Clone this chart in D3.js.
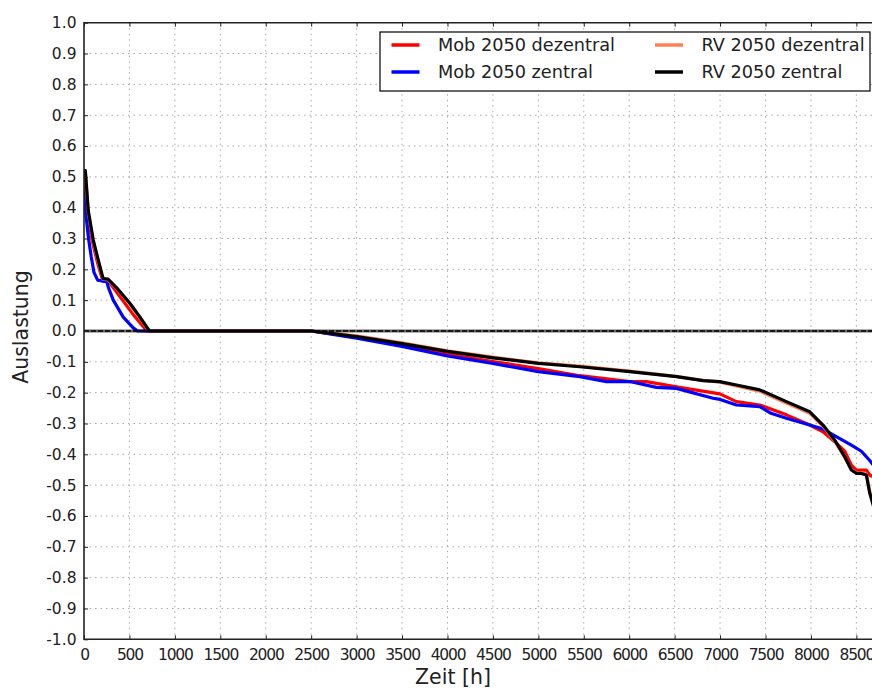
<!DOCTYPE html>
<html>
<head>
<meta charset="utf-8">
<script src="https://cdn.jsdelivr.net/npm/d3@7"></script>
<style>
  html, body { margin: 0; padding: 0; background: #fff; }
  svg { display: block; }
  text { font-family: "DejaVu Sans", sans-serif; fill: #222; }
</style>
</head>
<body>
<svg id="chart" width="872" height="691"></svg>
<script>
// Annual load-duration curves of line utilisation (hours sorted by load)
const xTicks = [0, 500, 1000, 1500, 2000, 2500, 3000, 3500, 4000, 4500, 5000, 5500, 6000, 6500, 7000, 7500, 8000, 8500, 9000];
const yTicks = [1.0, 0.9, 0.8, 0.7, 0.6, 0.5, 0.4, 0.3, 0.2, 0.1, 0.0, -0.1, -0.2, -0.3, -0.4, -0.5, -0.6, -0.7, -0.8, -0.9, -1.0];

const mobDezHours = [0, 20, 50, 100, 150, 200, 260, 350, 450, 550, 650, 690, 2500, 3000, 3500, 4000, 4500, 5000, 5457, 6007, 6190, 6520, 6997, 7180, 7437, 7730, 7987, 8133, 8262, 8372, 8445, 8500, 8555, 8610, 8647, 8700, 8760];
const mobDezValues = [0.50, 0.44, 0.36, 0.28, 0.22, 0.17, 0.165, 0.13, 0.09, 0.05, 0.015, 0.0, 0.0, -0.02, -0.046, -0.075, -0.099, -0.122, -0.145, -0.164, -0.164, -0.181, -0.204, -0.229, -0.24, -0.272, -0.305, -0.327, -0.359, -0.39, -0.435, -0.451, -0.451, -0.451, -0.467, -0.475, -0.485];

const mobZenHours = [0, 20, 50, 80, 110, 150, 200, 250, 270, 322, 432, 542, 590, 2500, 3000, 3500, 4000, 4500, 5000, 5457, 5750, 6007, 6300, 6520, 6923, 7000, 7180, 7437, 7560, 7730, 7987, 8133, 8313, 8445, 8555, 8647, 8700, 8760];
const mobZenValues = [0.45, 0.38, 0.30, 0.24, 0.19, 0.165, 0.162, 0.16, 0.14, 0.10, 0.045, 0.01, 0.0, 0.0, -0.023, -0.05, -0.081, -0.105, -0.132, -0.148, -0.164, -0.164, -0.183, -0.186, -0.218, -0.222, -0.24, -0.245, -0.267, -0.283, -0.305, -0.318, -0.348, -0.37, -0.39, -0.42, -0.44, -0.46];

const rvDezHours = [0, 15, 47, 102, 157, 210, 265, 360, 505, 616, 715, 2500, 3000, 3500, 4000, 4500, 5000, 5457, 6007, 6520, 6813, 6997, 7180, 7437, 7730, 7987, 8133, 8262, 8372, 8445, 8500, 8555, 8610, 8647, 8700, 8760];
const rvDezValues = [0.51, 0.51, 0.385, 0.29, 0.225, 0.168, 0.166, 0.138, 0.088, 0.043, 0.0, 0.0, -0.016, -0.038, -0.064, -0.085, -0.103, -0.114, -0.13, -0.147, -0.16, -0.166, -0.178, -0.195, -0.234, -0.267, -0.309, -0.357, -0.41, -0.449, -0.459, -0.46, -0.464, -0.52, -0.57, -0.61];

const rvZenHours = [0, 15, 47, 102, 157, 210, 265, 360, 505, 616, 720, 2500, 3000, 3500, 4000, 4500, 5000, 5457, 6007, 6520, 6813, 6997, 7180, 7437, 7730, 7987, 8133, 8262, 8372, 8445, 8500, 8555, 8610, 8647, 8700, 8760];
const rvZenValues = [0.52, 0.52, 0.39, 0.295, 0.23, 0.17, 0.168, 0.14, 0.09, 0.045, 0.0, 0.0, -0.018, -0.041, -0.066, -0.087, -0.105, -0.116, -0.132, -0.148, -0.161, -0.164, -0.175, -0.191, -0.229, -0.262, -0.305, -0.354, -0.408, -0.451, -0.462, -0.462, -0.467, -0.526, -0.58, -0.62];

const seriesNames = ["Mob 2050 dezentral", "Mob 2050 zentral", "RV 2050 dezentral", "RV 2050 zentral"];
const seriesColors = ["#ff0000", "#0000ff", "#ff7f50", "#000000"];
const seriesHours = [mobDezHours, mobZenHours, rvDezHours, rvZenHours];
const seriesValues = [mobDezValues, mobZenValues, rvDezValues, rvZenValues];

const svg = d3.select("#chart");
const plotLeft = 84, plotTop = 22.7, plotBottom = 639.3, plotRight = 880;

const x = d3.scaleLinear().domain([0, 8760]).range([plotLeft, plotRight]);
const y = d3.scaleLinear().domain([-1, 1]).range([plotBottom, plotTop]);

svg.append("defs").append("clipPath").attr("id", "plotClip")
  .append("rect").attr("x", plotLeft).attr("y", plotTop)
  .attr("width", plotRight - plotLeft).attr("height", plotBottom - plotTop);

// dotted grid
const grid = svg.append("g");
grid.selectAll(".gx").data(xTicks.filter(d => d > 0 && d <= 8760)).join("line")
  .attr("x1", d => x(d)).attr("x2", d => x(d)).attr("y1", plotTop).attr("y2", plotBottom)
  .attr("stroke", "#aaa").attr("stroke-width", 1).attr("stroke-dasharray", "1.5,4");
grid.selectAll(".gy").data(yTicks.filter(d => d > -1 && d < 1)).join("line")
  .attr("x1", plotLeft).attr("x2", plotRight).attr("y1", d => y(d)).attr("y2", d => y(d))
  .attr("stroke", "#aaa").attr("stroke-width", 1).attr("stroke-dasharray", "1.5,4");

// curves
const plot = svg.append("g").attr("clip-path", "url(#plotClip)");
const line = d3.line().x(d => x(d[0])).y(d => y(d[1]));
seriesNames.forEach((name, i) => {
  const pts = seriesHours[i].map((h, j) => [h, seriesValues[i][j]]);
  plot.append("path").datum(pts)
    .attr("d", line)
    .attr("fill", "none")
    .attr("stroke", seriesColors[i])
    .attr("stroke-width", 3.2)
    .attr("stroke-linejoin", "round");
});

// zero reference line
plot.append("line").attr("x1", plotLeft).attr("x2", plotRight).attr("y1", y(0)).attr("y2", y(0))
  .attr("stroke", "#000").attr("stroke-opacity", 0.6).attr("stroke-width", 3);
plot.append("line").attr("x1", plotLeft).attr("x2", plotRight).attr("y1", y(0)).attr("y2", y(0))
  .attr("stroke", "#000").attr("stroke-width", 1.3).attr("stroke-dasharray", "5,2");

// axes with inward ticks on all sides
const axisLeft = d3.axisLeft(y).tickValues(yTicks).tickFormat(d3.format(".1f")).tickSizeInner(-4).tickSizeOuter(0).tickPadding(8);
const gy = svg.append("g").attr("transform", `translate(${plotLeft},0)`).call(axisLeft);
gy.select(".domain").remove();
gy.selectAll("line").attr("stroke", "#222");
gy.selectAll("text").attr("font-size", "15.5px").attr("fill", "#222").attr("x", -7.5)
  .text(d => d3.format(".1f")(d).replace("−", "-"));

const xt = xTicks.filter(d => d <= 8760);
const axisBottom = d3.axisBottom(x).tickValues(xt).tickFormat(d3.format("d")).tickSizeInner(-4).tickSizeOuter(0).tickPadding(10);
const gx = svg.append("g").attr("transform", `translate(0,${plotBottom})`).call(axisBottom);
gx.select(".domain").remove();
gx.selectAll("line").attr("stroke", "#222");
gx.selectAll("text").attr("font-size", "15.5px").attr("fill", "#222").attr("letter-spacing", "-1.2px");

const axisTop = d3.axisTop(x).tickValues(xt).tickFormat("").tickSizeInner(-4).tickSizeOuter(0);
const gt = svg.append("g").attr("transform", `translate(0,${plotTop})`).call(axisTop);
gt.select(".domain").remove();
gt.selectAll("line").attr("stroke", "#222");

// frame
svg.append("path")
  .attr("d", `M${plotRight},${plotTop}H${plotLeft}V${plotBottom}H${plotRight}`)
  .attr("fill", "none").attr("stroke", "#222").attr("stroke-width", 1.6);

// axis titles
svg.append("text").attr("x", 453).attr("y", 684).attr("text-anchor", "middle")
  .attr("font-size", "20.5px").text("Zeit [h]");
svg.append("text").attr("transform", "translate(28,327) rotate(-90)").attr("text-anchor", "middle")
  .attr("font-size", "20.5px").text("Auslastung");

// legend
const lg = svg.append("g");
lg.append("rect").attr("x", 380).attr("y", 32).attr("width", 490).attr("height", 59)
  .attr("fill", "#fff").attr("stroke", "#000").attr("stroke-width", 1.2);
const legendPos = [[391.5, 45], [391.5, 72], [655, 45], [655, 72]];
seriesNames.forEach((name, i) => {
  const [lx, ly] = legendPos[i];
  lg.append("line").attr("x1", lx).attr("x2", lx + 28).attr("y1", ly).attr("y2", ly)
    .attr("stroke", seriesColors[i]).attr("stroke-width", 3.5);
  lg.append("text").attr("x", lx + 46.5).attr("y", ly).attr("dy", "0.36em")
    .attr("font-size", "17.7px").text(name);
});
</script>
</body>
</html>
